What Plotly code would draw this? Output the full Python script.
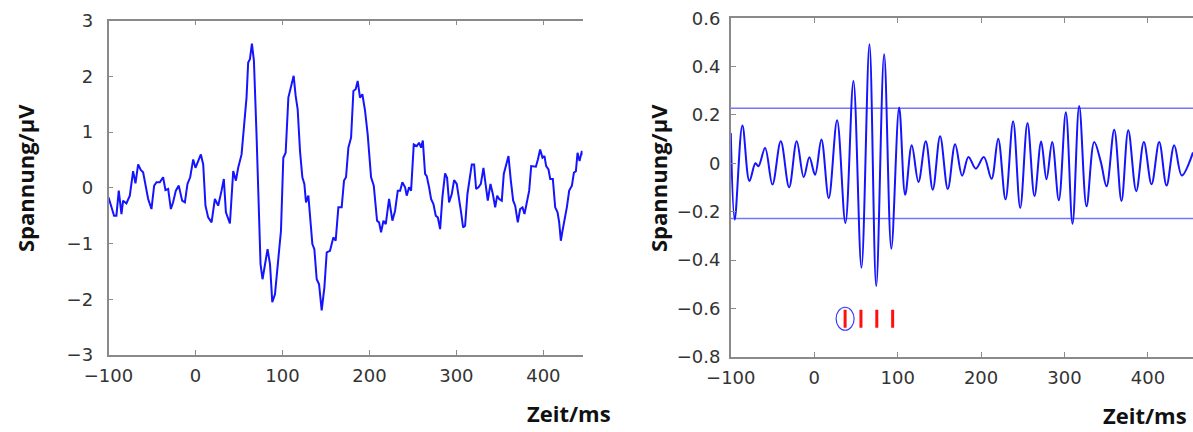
import plotly.graph_objects as go

W, H = 1193, 432

# ---------------- Left panel: raw EEG trace (ms, µV) ----------------
left_t = [-100, -96.6, -93.6, -90.9, -88.2, -85.1, -83.2, -79.4, -75.5, -71.7, -69, -65.9, -62.9, -60.2,
          -57.5, -54.4, -50.6, -47.5, -44.8, -41.0, -37.2, -34.5, -31.4, -28.3, -25.7, -22.6, -19.2,
          -15.3, -12.2, -9.2, -6.1, -2.6, 0.0, 3.1, 6.2, 8.9, 11.5, 14.6, 18.5, 22.3, 26.1, 30.0, 32.6,
          35.0, 39.6, 43.4, 46.5, 49.1, 53.0, 56.0, 58.7, 60.6, 62.6, 64.9, 67.2, 70.2, 72.9, 74.8,
          77.1, 79.8, 82.9, 85.7, 88.3, 91.4, 95.2, 98.3, 101, 103.7, 106.8, 109.8, 112.9, 115.2,
          117.5, 120.2, 122.9, 125.2, 127.1, 129.8, 131.7, 134.4, 136.7, 139.4, 142.1, 145.1, 148.2,
          150.9, 154.7, 158.5, 161.2, 164.3, 168.1, 170.8, 173.1, 175.8, 178.9, 181.6, 184.2, 186.5,
          189.2, 191.9, 195, 198, 201.9, 205, 208.8, 211.1, 213.4, 216.1, 218.8, 222.6, 226.4, 229.5,
          232.6, 235.3, 237.9, 241, 242.9, 245.6, 247.9, 251, 254.4, 257.1, 259.4, 261.4, 264, 265.9,
          268.6, 270.9, 273.6, 276.3, 278.6, 281.3, 283.9, 287, 289.3, 291.6, 294.7, 297.4, 300.4,
          303.1, 305.4, 307.7, 310, 312.7, 315.8, 317.7, 320.4, 322.7, 325.4, 328.1, 331.1, 333.8,
          336.1, 339.2, 341.9, 344.6, 346.9, 349.2, 352.2, 354.5, 357.2, 359.9, 362.6, 365.3, 367.6,
          370.6, 373.3, 376, 378.3, 381, 383.7, 386, 388.7, 391.4, 393.7, 396.3, 399, 401.3, 403.2,
          405.9, 407.9, 410.9, 413.6, 416.3, 418.2, 420.1, 422, 424.3, 427, 429.7, 432.8, 435.1,
          437.4, 439.3, 441.6, 444.3, 447]
left_v = [-0.17, -0.35, -0.50, -0.50, -0.05, -0.47, -0.23, -0.28, -0.14, 0.30, 0.08, 0.42, 0.32, 0.28,
          0.07, -0.20, -0.38, 0.04, 0.10, 0.10, 0.19, -0.04, -0.02, -0.38, -0.26, -0.05, 0.04,
          -0.23, -0.26, 0.07, 0.19, 0.51, 0.36, 0.48, 0.60, 0.42, -0.32, -0.53, -0.62, -0.20, -0.32,
          -0.05, 0.16, -0.44, -0.64, 0.30, 0.13, 0.36, 0.60, 1.14, 1.62, 2.25, 2.31, 2.59, 2.28,
          0.96, -0.53, -1.37, -1.64, -1.37, -1.10, -1.37, -2.05, -1.91, -1.31, -0.77, 0.54, 0.63,
          1.62, 1.80, 2.01, 1.65, 1.41, 0.66, 0.19, 0.07, -0.26, -0.14, -0.53, -1.01, -1.10, -1.64,
          -1.73, -2.20, -1.79, -1.16, -1.13, -0.89, -0.95, -0.35, -0.35, 0.13, 0.19, 0.72, 0.90,
          1.74, 1.77, 1.92, 1.62, 1.68, 1.38, 0.96, 0.19, 0.04, -0.59, -0.62, -0.80, -0.59, -0.65,
          -0.20, -0.59, -0.41, -0.05, -0.05, 0.10, 0.01, -0.14, 0.01, -0.05, 0.78, 0.75, 0.81, 0.72,
          0.85, 0.25, 0.21, 0.01, -0.20, -0.29, -0.50, -0.53, -0.74, -0.17, 0.26, 0.18, -0.26, -0.11,
          0.14, 0.07, -0.17, -0.44, -0.71, -0.68, -0.11, 0.25, 0.42, 0.42, -0.02, 0.01, 0.07, 0.36,
          0.04, -0.23, 0.07, -0.11, -0.35, -0.14, -0.20, -0.23, 0.25, 0.39, 0.57, 0.13, -0.23, -0.32,
          -0.62, -0.38, -0.35, -0.47, -0.23, -0.05, 0.39, 0.39, 0.38, 0.51, 0.69, 0.54, 0.57, 0.39,
          0.33, 0.16, 0.16, -0.35, -0.44, -0.62, -0.95, -0.77, -0.59, -0.35, -0.05, 0.04, 0.27,
          0.30, 0.63, 0.48, 0.66, 0.57]

# ---------------- Right panel: filtered trace (extrema, ms, µV) ----------------
right_t = [-100, -95.3, -86.1, -77.7, -70.5, -66.9, -58.9, -50.1, -40.1, -30.1, -21.0, -12.6, -5.8,
           1.0, 8.6, 17.4, 27.4, 37.4, 47.0, 56.6, 66.2, 74.3, 83.8, 92.4, 101.8, 109, 116.9, 124.9,
           133.7, 142.1, 150.9, 160.1, 168.9, 177.3, 184.9, 193.7, 203.3, 212.5, 220.5, 229.3, 238.4,
           246.9, 255.6, 264, 272.0, 278.4, 285.2, 293.2, 301.6, 309.6, 317.6, 326.4, 335.6, 343.5,
           350.4, 359.6, 368.3, 376.4, 386, 395.1, 404.3, 413.5, 422.3, 431.5, 440.6, 454]
right_v = [0.125, -0.233, 0.157, -0.073, 0.0, -0.012, 0.063, -0.088, 0.091, -0.099, 0.091, -0.057,
           0.025, -0.047, 0.099, -0.144, 0.178, -0.247, 0.341, -0.432, 0.493, -0.508, 0.451, -0.353,
           0.231, -0.130, 0.075, -0.077, 0.091, -0.109, 0.112, -0.106, 0.079, -0.051, 0.026, -0.022,
           0.026, -0.064, 0.102, -0.149, 0.174, -0.185, 0.167, -0.135, 0.090, -0.066, 0.088, -0.153,
           0.211, -0.250, 0.237, -0.178, 0.088, 0.006, -0.095, 0.139, -0.156, 0.137, -0.115, 0.088,
           -0.087, 0.088, -0.092, 0.075, -0.050, 0.045]

thresholds = [0.228, -0.228]
marker_t = [37, 56, 75, 94]
marker_v = -0.643

left_xticks = [-100, 0, 100, 200, 300, 400]
left_yticks = [-3, -2, -1, 0, 1, 2, 3]
right_xticks = [-100, 0, 100, 200, 300, 400]
right_yticks = [-0.8, -0.6, -0.4, -0.2, 0, 0.2, 0.4, 0.6]

BLUE = "#1414ff"
AXC = "#8a8a8a"
TICKFONT = dict(family="DejaVu Sans", size=18, color="#333333")
TITLEFONT = dict(family="Open Sans", size=22, color="#111111")

fig = go.Figure()
fig.add_trace(go.Scatter(x=left_t, y=left_v, mode="lines", line=dict(color=BLUE, width=2),
                         xaxis="x", yaxis="y", showlegend=False))
for th in thresholds:
    fig.add_trace(go.Scatter(x=[right_xticks[0], 460], y=[th, th], mode="lines",
                             line=dict(color="rgba(70,70,255,0.75)", width=1.6),
                             xaxis="x2", yaxis="y2", showlegend=False))
fig.add_trace(go.Scatter(x=right_t, y=right_v, mode="lines",
                         line=dict(color=BLUE, width=2, shape="spline", smoothing=1.0),
                         xaxis="x2", yaxis="y2", showlegend=False))
fig.add_trace(go.Scatter(x=marker_t, y=[marker_v] * len(marker_t), mode="markers",
                         marker=dict(symbol="line-ns", size=13, line=dict(color="#ff1010", width=3)),
                         xaxis="x2", yaxis="y2", showlegend=False))

# ellipse around first marker (pixel size converted to data units)
px_per_ms = 0.834
px_per_uv = 241.5
fig.add_shape(type="circle", xref="x2", yref="y2",
              x0=marker_t[0] - 9 / px_per_ms, x1=marker_t[0] + 9 / px_per_ms,
              y0=marker_v - 11.5 / px_per_uv, y1=marker_v + 11.5 / px_per_uv,
              line=dict(color="#3a3aff", width=1.2))

common_x = dict(showline=True, linecolor=AXC, linewidth=1.5, mirror="ticks", ticks="inside",
                ticklen=5, tickcolor=AXC, tickwidth=1.2, showgrid=False, zeroline=False,
                tickfont=TICKFONT, ticklabelstandoff=4, automargin=False)
common_y = dict(showline=True, linecolor=AXC, linewidth=1.5, mirror=False, ticks="inside",
                ticklen=5, tickcolor=AXC, tickwidth=1.2, showgrid=False, zeroline=False,
                tickfont=TICKFONT, automargin=False)

fig.update_layout(
    width=W, height=H, margin=dict(l=0, r=0, t=0, b=0, autoexpand=False),
    paper_bgcolor="white", plot_bgcolor="white",
    xaxis=dict(domain=[108.5 / W, 582.5 / W], range=[-100, 445], tickvals=left_xticks,
               anchor="y", **common_x),
    yaxis=dict(domain=[1 - 355 / H, 1 - 20.7 / H], range=[-3, 3], tickvals=left_yticks,
               anchor="x", ticklabelstandoff=10, **common_y),
    xaxis2=dict(domain=[730.8 / W, 1.0], range=[-100, 454], tickvals=right_xticks,
                anchor="y2", **common_x),
    yaxis2=dict(domain=[1 - 356.7 / H, 1 - 18.3 / H], range=[-0.8, 0.6], tickvals=right_yticks,
                anchor="x2", ticklabelstandoff=5, **common_y),
)

titles = [
    dict(text="<b>Spannung/µV</b>", x=25 / W, y=1 - 178 / H, textangle=-90),
    dict(text="<b>Spannung/µV</b>", x=658 / W, y=1 - 178 / H, textangle=-90),
    dict(text="<b>Zeit/ms</b>", x=569 / W, y=1 - 413 / H, textangle=0),
    dict(text="<b>Zeit/ms</b>", x=1145 / W, y=1 - 415 / H, textangle=0),
]
for t in titles:
    fig.add_annotation(text=t["text"], x=t["x"], y=t["y"], xref="paper", yref="paper",
                       xanchor="center", yanchor="middle", showarrow=False,
                       textangle=t["textangle"], font=TITLEFONT)

fig.write_html("out.html")
